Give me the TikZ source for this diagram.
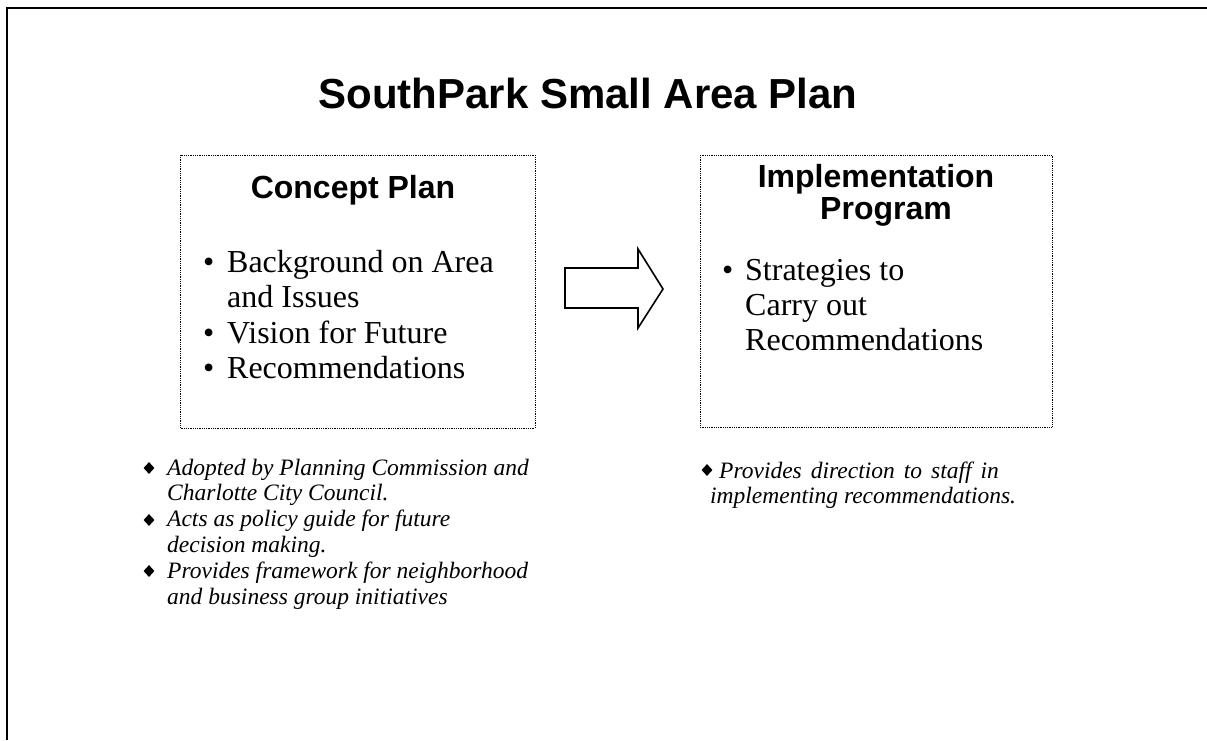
\documentclass[tikz,border=0pt]{standalone}
\usepackage{fontspec}
\setmainfont{Liberation Serif}
\newfontfamily\arialf{Liberation Sans}
\usetikzlibrary{shapes.geometric}
\tikzset{
  titletext/.style={font=\arialf\bfseries\fontsize{42}{42}\selectfont, inner sep=0, anchor=base},
  headtext/.style={font=\arialf\bfseries\fontsize{32}{32}\selectfont, inner sep=0, anchor=base},
  bodytext/.style={font=\fontsize{32}{32}\selectfont, inner sep=0, anchor=base west},
  notetext/.style={font=\itshape\fontsize{23.5}{23.5}\selectfont, inner sep=0, anchor=base west},
  diabullet/.style={diamond, fill=black, draw=none, inner sep=0, minimum width=11pt, minimum height=12pt},
  dotbox/.style={draw=black, line width=0.9pt, dash pattern=on 0.9pt off 0.9pt},
  framestroke/.style={draw=black, line width=2pt},
  blockarrow/.style={draw=black, line width=1.6pt, line join=miter}
}
\begin{document}
\begin{tikzpicture}[x=1pt,y=-1pt]
\useasboundingbox (0,0) rectangle (1207,740);
% frame (top and left edges only)
\draw[framestroke] (7,740) -- (7,8) -- (1207,8);
% title
\node[titletext] (title) at (588,108) {SouthPark Small Area Plan};
% boxes
\draw[dotbox] (180,155) rectangle (535,428);
\draw[dotbox] (700,155) rectangle (1052,427);
% left box content
\node[headtext] (cp) at (353,198) {Concept Plan};
\node[bodytext] (l1) at (203,272) {\makebox[24pt][l]{•}Background on Area};
\node[bodytext] (l2) at (227,307) {and Issues};
\node[bodytext] (l3) at (203,343) {\makebox[24pt][l]{•}Vision for Future};
\node[bodytext] (l4) at (203,378) {\makebox[24pt][l]{•}Recommendations};
% right box content
\node[headtext] (ip1) at (876,187) {Implementation};
\node[headtext] (ip2) at (886,219) {Program};
\node[bodytext] (r1) at (722,280) {\makebox[23pt][l]{•}Strategies to};
\node[bodytext] (r2) at (745,315) {Carry out};
\node[bodytext] (r3) at (745,350) {Recommendations};
% block arrow
\draw[blockarrow] (565,268) -- (638,268) -- (638,249) -- (663,289) -- (638,328) -- (638,308) -- (565,308) -- cycle;
% lower-left notes
\node[diabullet] (d1) at (149,468) {};
\node[diabullet] (d2) at (149,520) {};
\node[diabullet] (d3) at (149,571) {};
\node[notetext] (n1) at (167,475) {Adopted by Planning Commission and};
\node[notetext] (n2) at (167,500) {Charlotte City Council.};
\node[notetext] (n3) at (167,526) {Acts as policy guide for future};
\node[notetext] (n4) at (167,552) {decision making.};
\node[notetext] (n5) at (167,578) {Provides framework for neighborhood};
\node[notetext] (n6) at (167,604) {and business group initiatives};
% lower-right notes
\node[diabullet] (d4) at (707,470) {};
\node[notetext] (m1) at (719,478) {\spaceskip=9pt Provides direction to staff in};
\node[notetext] (m2) at (710,503) {implementing recommendations.};
\end{tikzpicture}
\end{document}
